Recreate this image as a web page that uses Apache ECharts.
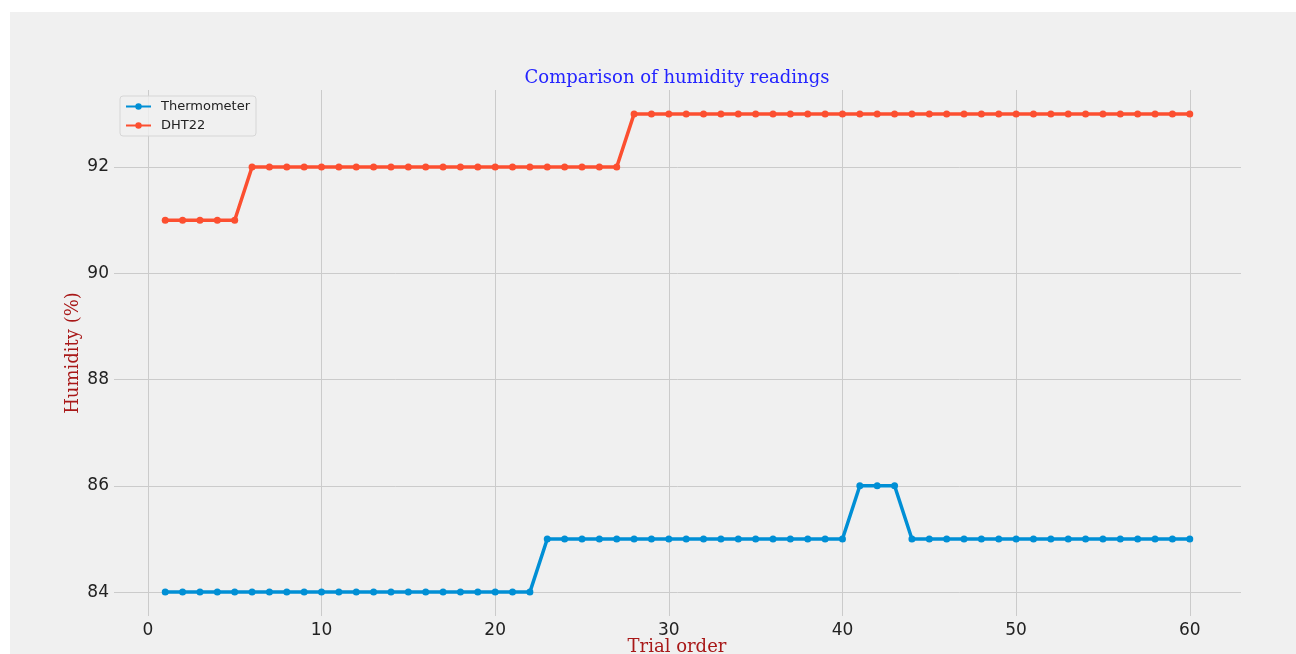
<!DOCTYPE html>
<html>
<head>
<meta charset="utf-8">
<script src="https://cdn.jsdelivr.net/npm/echarts@6/dist/echarts.min.js"></script>
<style>
html,body{margin:0;padding:0;background:#ffffff;}
#chart{width:1296px;height:654px;}
</style>
</head>
<body>
<div id="chart"></div>
<script>
const trials = [];
for (let i = 1; i <= 60; i++) trials.push(i);
const thermometer = [84,84,84,84,84,84,84,84,84,84,84,84,84,84,84,84,84,84,84,84,84,84,
  85,85,85,85,85,85,85,85,85,85,85,85,85,85,85,85,85,85,
  86,86,86,
  85,85,85,85,85,85,85,85,85,85,85,85,85,85,85,85,85];
const dht22 = [91,91,91,91,91,
  92,92,92,92,92,92,92,92,92,92,92,92,92,92,92,92,92,92,92,92,92,92,
  93,93,93,93,93,93,93,93,93,93,93,93,93,93,93,93,93,93,93,93,93,93,93,93,93,93,93,93,93,93,93,93,93];
const xTicks = [0,10,20,30,40,50,60];
const yTicks = [84,86,88,90,92];

const chart = echarts.init(document.getElementById('chart'), null, {renderer:'canvas'});
const pair = (ys) => trials.map((t, i) => [t, ys[i]]);
const tickFont = {fontFamily:'DejaVu Sans', fontSize:17, color:'#222222'};
const gridColor = '#cbcbcb';

chart.setOption({
  animation:false,
  backgroundColor:'#ffffff',
  graphic:[
    {type:'rect', z:-10, shape:{x:10,y:12,width:1286,height:642}, style:{fill:'#f0f0f0'}},
    {type:'text', z:10, style:{text:'Comparison of humidity readings', font:'18px "DejaVu Serif"', fill:'#2424ff', x:677, y:78, align:'center', verticalAlign:'middle'}},
    {type:'text', z:10, style:{text:'Humidity (%)', font:'18px "DejaVu Serif"', fill:'#a81818', align:'center', verticalAlign:'middle'}, x:73, y:353, rotation:Math.PI/2},
    {type:'text', z:10, style:{text:'Trial order', font:'18px "DejaVu Serif"', fill:'#a81818', x:677, y:647, align:'center', verticalAlign:'middle'}}
  ],
  grid:{left:114, right:55, top:90, bottom:38, containLabel:false},
  legend:{
    left:120, top:96, orient:'vertical',
    padding:[4,6,4,5], itemGap:6, itemWidth:25, itemHeight:8,
    backgroundColor:'rgba(240,240,240,0.8)', borderColor:'#d6d6d6', borderWidth:1, borderRadius:3,
    textStyle:{fontFamily:'DejaVu Sans', fontSize:13, color:'#222222', padding:[0,0,0,5]},
    data:['Thermometer','DHT22']
  },
  xAxis:{
    type:'value', min:-1.95, max:62.95,
    axisLine:{show:false},
    axisTick:{show:false, customValues:xTicks},
    axisLabel:{customValues:xTicks, margin:6, ...tickFont},
    splitLine:{show:true, lineStyle:{color:gridColor, width:1}}
  },
  yAxis:{
    type:'value', min:83.55, max:93.45,
    axisLine:{show:false},
    axisTick:{show:false, customValues:yTicks},
    axisLabel:{customValues:yTicks, margin:5, ...tickFont},
    splitLine:{show:true, lineStyle:{color:gridColor, width:1}}
  },
  series:[
    {name:'Thermometer', type:'line', data:pair(thermometer), color:'#008fd5',
     symbol:'circle', symbolSize:7, showAllSymbol:true, lineStyle:{width:3.5}, z:3},
    {name:'DHT22', type:'line', data:pair(dht22), color:'#fc4f30',
     symbol:'circle', symbolSize:7, showAllSymbol:true, lineStyle:{width:3.5}, z:3}
  ]
});
</script>
</body>
</html>
